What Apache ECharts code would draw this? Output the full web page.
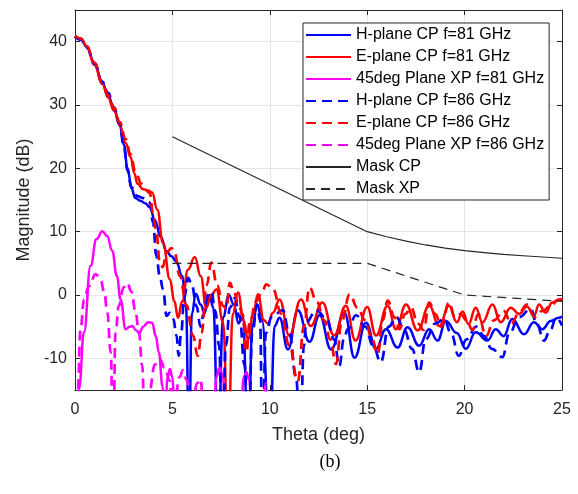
<!DOCTYPE html>
<html><head><meta charset="utf-8">
<script src="https://cdn.jsdelivr.net/npm/echarts@6/dist/echarts.min.js"></script>
<style>html,body{margin:0;padding:0;background:#fff}#c{width:578px;height:494px}</style>
</head><body><div id="c"></div>
<script>
const seriesNames = ['H-plane CP f=81 GHz','E-plane CP f=81 GHz','45deg Plane XP f=81 GHz','H-plane CP f=86 GHz','E-plane CP f=86 GHz','45deg Plane XP f=86 GHz','Mask CP','Mask XP'];
const xLabel = 'Theta (deg)';
const yLabel = 'Magnitude (dB)';
const caption = '(b)';

const h81 = [[0,40.8],[0.3,40.4],[0.6,39.2],[1.0,36.6],[1.4,33.6],[1.7,31.5],[2.0,29.4],[2.3,26.8],[2.5,23.8],[2.7,20],[2.9,16.8],[3.1,15.3],[3.35,14.9],[3.6,14.5],[3.85,13.8],[4.1,11.8],[4.4,9.2],[4.7,6.9],[4.95,6.1],[5.2,5.3],[5.5,3.0],[5.7,-2],[5.85,-24],[6.0,-3],[6.2,0.2],[6.45,-1.5],[6.65,-2.8],[6.9,0],[7.1,-2],[7.35,-24],[7.6,-3.5],[7.9,0],[8.15,-1.5],[8.4,-4.5],[8.6,-3],[8.9,-24],[9.1,-5],[9.35,-1.5],[9.6,-4],[10.0,-24],[10.25,-4.9],[10.5,-3.6],[10.93,-8.6],[11.44,-2.4],[12.04,-7.4],[12.55,-3.2],[13.15,-8.6],[13.83,-2.8],[14.35,-9.9],[14.94,-4.4],[15.45,-8.5],[15.96,-5.4],[16.56,-8.3],[17.07,-5.1],[17.67,-8.0],[18.18,-5.4],[18.61,-7.2],[19.04,-4.1],[19.6,-6.0],[20.06,-8.5],[20.57,-5.9],[21.17,-7.2],[21.6,-5.4],[22.0,-6.5],[22.45,-3.8],[23.05,-6.2],[23.56,-4.3],[23.99,-5.4],[24.42,-4.1],[24.84,-3.6],[25,-3.4]];
const e81 = [[0,40.9],[0.3,40.5],[0.6,39.3],[1.0,36.3],[1.4,33.3],[1.7,31.2],[2.0,29.1],[2.3,26.8],[2.6,24],[2.85,21.8],[3.05,19.2],[3.2,17.6],[3.5,16.7],[3.75,16.5],[3.96,16.2],[4.22,13.5],[4.52,8.2],[4.87,2.5],[5.1,-1],[5.29,-3.6],[5.5,-1],[5.8,4],[6.15,6.0],[6.45,3],[6.74,-2.0],[7.0,0],[7.26,0.9],[7.6,-4.3],[7.86,-24],[8.1,-3],[8.37,0.4],[8.65,-4],[8.88,-7],[9.15,-3],[9.39,0.1],[9.7,-4],[9.9,-4.5],[10.16,-2.8],[10.5,-0.7],[11.0,-6.4],[11.6,-0.7],[12.1,-4.9],[12.7,-1.2],[13.3,-6.4],[13.9,-1.7],[14.4,-7.2],[15.0,-1.9],[15.45,-6.4],[16.05,-1.7],[16.48,-5.4],[16.99,-1.5],[17.59,-5.6],[18.18,-1.7],[18.7,-4.9],[19.2,-1.7],[19.6,-4.3],[19.9,-2.6],[20.2,-4.6],[20.57,-2.0],[20.92,-4.3],[21.43,-1.5],[21.85,-4.3],[22.37,-2.0],[22.8,-3.0],[23.2,-1.8],[23.56,-3.3],[23.82,-1.5],[24.16,-2.8],[24.5,-1.2],[24.84,-0.7],[25,-0.9]];
const xp81 = [[0,-35],[0.1,-22],[0.21,-14.8],[0.46,-5.9],[0.8,4.6],[1.1,8.8],[1.4,10.05],[1.65,9.3],[1.91,7.0],[2.15,3.0],[2.34,-0.7],[2.6,-5.4],[2.8,-5.0],[2.94,-4.9],[3.15,-5.6],[3.3,-6.0],[3.5,-5],[3.75,-4.3],[3.96,-4.4],[4.15,-6.5],[4.3,-9],[4.5,-14.5],[4.6,-24],[4.75,-13],[4.87,-11.7],[5.0,-13],[5.15,-24],[7.1,-24],[7.25,-13],[7.43,-11.4],[7.6,-13],[7.75,-24],[8.5,-24],[8.65,-13],[8.8,-12.2],[8.95,-13.5],[9.1,-24],[10.5,-35]];
const h86 = [[0,40.8],[0.3,40.3],[0.6,39.1],[1.0,36.5],[1.4,33.7],[1.7,31.9],[2.0,29.6],[2.3,27],[2.5,23.5],[2.7,19.6],[2.9,17],[3.2,15.6],[3.5,15.3],[3.84,14.6],[4.0,11.5],[4.18,6.1],[4.35,3],[4.52,0.9],[4.7,-3.3],[4.87,-2.8],[5.05,-3.8],[5.21,-6.4],[5.32,-9.6],[5.45,-6],[5.6,-0.5],[5.81,2.7],[6.0,1.5],[6.23,-1.7],[6.45,-5],[6.6,-3],[6.8,0],[7.0,0.5],[7.2,-2.5],[7.4,-8],[7.55,-24],[7.75,-8],[7.95,-2],[8.2,-0.5],[8.45,-3.5],[8.7,-11],[8.9,-24],[9.1,-6],[9.35,-1.5],[9.5,-4],[9.62,-24],[9.8,-6],[10.1,-3.5],[10.67,-2.4],[11.0,-6],[11.35,-13],[11.56,-24],[11.75,-8],[11.87,-4.3],[12.38,-2.4],[12.89,-3.6],[13.3,-7],[13.57,-11.2],[13.8,-7],[14.0,-5.4],[14.43,-3.2],[14.9,-5],[15.3,-8],[15.7,-10.6],[16.1,-5],[16.5,-3.5],[16.9,-5.5],[17.3,-8.5],[17.67,-12.2],[18.0,-7],[18.5,-4.5],[18.95,-3.8],[19.3,-6],[19.7,-9.6],[20.1,-7],[20.6,-5],[21.0,-6.5],[21.4,-8.5],[21.94,-9.8],[22.3,-6],[22.8,-3.5],[23.39,-2.2],[23.7,-4.5],[24.07,-7.2],[24.4,-5.5],[24.7,-3.6],[25,-4.8]];
const e86 = [[0,40.9],[0.3,40.5],[0.6,39.3],[1.0,36.7],[1.4,33.4],[1.7,31.6],[2.0,29.6],[2.3,27.3],[2.6,24.6],[2.85,22.2],[3.1,19.6],[3.4,17.6],[3.84,16.1],[4.0,13],[4.18,9.8],[4.35,5.2],[4.5,4.4],[4.7,6.7],[4.95,7.4],[5.1,6.8],[5.38,3.0],[5.72,-1.6],[6.06,-6.4],[6.3,-9.6],[6.5,-6],[6.75,1.5],[7.0,5.1],[7.3,1.5],[7.6,-1.7],[7.77,-2.2],[7.95,1.9],[8.15,0.5],[8.37,-1.2],[8.6,-3],[8.8,-9],[8.97,-4.3],[9.3,-1],[9.6,0.5],[9.82,1.7],[10.16,0.9],[10.6,-3],[11.0,-8],[11.44,-13.6],[11.75,-5],[12.04,1.2],[12.4,-1],[12.8,-4],[13.1,-7],[13.4,-10.9],[13.7,-4],[14.1,0.1],[14.5,-2],[14.9,-4],[15.25,-7],[15.54,-9.3],[15.8,-4],[16.05,-0.9],[16.4,-3.5],[16.65,-5.4],[16.95,-3],[17.25,-2],[17.6,-4.5],[17.9,-5.5],[18.18,-1.2],[18.5,-3],[18.8,-5],[19.2,-1.2],[19.5,-3.5],[19.8,-3],[20.1,-4],[20.4,-5.5],[20.7,-3],[21.1,-6.5],[21.5,-4],[22.0,-2.5],[22.4,-4.5],[22.8,-2.8],[23.2,-1.5],[23.6,-3.5],[24.0,-2.5],[24.4,-1.8],[24.8,-0.8],[25,-0.5]];
const xp86 = [[0,-35],[0.12,-16],[0.3,-5],[0.46,-0.7],[0.72,1.4],[1.06,3.3],[1.3,2.5],[1.5,0.5],[1.66,-2.8],[1.83,-9],[1.96,-24],[2.08,-5.9],[2.25,-1.7],[2.5,1.2],[2.68,1.9],[2.9,0.5],[3.1,-2.5],[3.28,-5.9],[3.45,-11.1],[3.59,-24],[3.8,-15.5],[4.1,-11],[4.35,-10.1],[4.6,-11.5],[4.87,-13.5],[5.0,-24],[5.35,-13],[5.55,-11.9],[5.75,-13.5],[5.95,-24],[6.25,-14],[6.45,-13.3],[6.65,-24],[9.55,-24],[9.8,-14],[10.0,-24],[10.5,-35]];
const maskCp = [[5,25],[15,10],[16,9.2],[17,8.5],[18,7.9],[19,7.4],[20,7],[21,6.7],[22,6.4],[23,6.2],[24,6.0],[25,5.8]];
const maskXp = [[5,5],[15,5],[20,0],[25,-1]];

const FONT = 'Liberation Sans, Arial, sans-serif';
const AX = '#262626';
const GRIDC = '#e6e6e6';

function curve(name, data, color, dashed, width) {
  return {
    name, type: 'line', data, symbol: 'none', smooth: 0.45, smoothMonotone: 'x',
    clip: true, animation: false,
    lineStyle: { color, width, type: dashed ? [10, 6] : 'solid' },
    itemStyle: { color }
  };
}
function mask(name, data, dashed) {
  return {
    name, type: 'line', data, symbol: 'none', smooth: false, clip: true, animation: false,
    lineStyle: { color: AX, width: 1.2, type: dashed ? [9, 6] : 'solid' },
    itemStyle: { color: AX }
  };
}

const baseX = {
  type: 'value', min: 0, max: 25, interval: 5,
  axisLine: { show: true, onZero: false, lineStyle: { color: AX, width: 1 } },
  axisTick: { show: true, inside: true, length: 5, lineStyle: { color: AX } },
  splitLine: { show: false }
};
const baseY = {
  type: 'value', min: -15, max: 45, splitNumber: 6,
  axisLine: { show: true, onZero: false, lineStyle: { color: AX, width: 1 } },
  axisTick: { show: true, inside: true, length: 5, lineStyle: { color: AX } },
  splitLine: { show: false }
};
const hideEnds = v => (v === -15 || v === 45) ? '' : String(v);

const option = {
  animation: false,
  backgroundColor: '#fff',
  textStyle: { fontFamily: FONT },
  grid: { left: 75, right: 16, top: 10, bottom: 104, containLabel: false },
  xAxis: [
    Object.assign({}, baseX, {
      position: 'bottom', name: xLabel, nameLocation: 'middle', nameGap: 36,
      nameTextStyle: { fontFamily: FONT, fontSize: 18, color: AX },
      axisLabel: { fontFamily: FONT, fontSize: 16, color: AX, margin: 12 },
      splitLine: { show: true, lineStyle: { color: GRIDC, width: 1 } }
    }),
    Object.assign({}, baseX, { position: 'top', axisLabel: { show: false } })
  ],
  yAxis: [
    Object.assign({}, baseY, {
      position: 'left', name: yLabel, nameLocation: 'middle', nameGap: 40,
      nameTextStyle: { fontFamily: FONT, fontSize: 18, color: AX },
      axisLabel: { fontFamily: FONT, fontSize: 16, color: AX, margin: 8, formatter: hideEnds },
      splitLine: { show: true, lineStyle: { color: GRIDC, width: 1 } }
    }),
    Object.assign({}, baseY, { position: 'right', axisLabel: { show: false } })
  ],
  legend: {
    data: seriesNames, orient: 'vertical', left: 303, top: 23,
    itemWidth: 45, itemHeight: 14, itemGap: 6,
    padding: [4, 5, 3, 2],
    borderColor: AX, borderWidth: 1, backgroundColor: '#fff',
    itemStyle: { opacity: 0 },
    textStyle: { fontFamily: FONT, fontSize: 16, color: '#000', lineHeight: 16 },
    selectedMode: false
  },
  graphic: [{
    type: 'text', x: 330, y: 462,
    style: { text: caption, font: '18px "Liberation Serif", "Times New Roman", serif', fill: '#000', textAlign: 'center', textVerticalAlign: 'middle' }
  }],
  series: [
    curve(seriesNames[0], h81, '#0000ff', false, 2.5),
    curve(seriesNames[1], e81, '#ff0000', false, 2.5),
    curve(seriesNames[2], xp81, '#ff00ff', false, 2.5),
    curve(seriesNames[3], h86, '#0000ff', true, 2.7),
    curve(seriesNames[4], e86, '#ff0000', true, 2.7),
    curve(seriesNames[5], xp86, '#ff00ff', true, 2.7),
    mask(seriesNames[6], maskCp, false),
    mask(seriesNames[7], maskXp, true)
  ]
};
const chart = echarts.init(document.getElementById('c'), null, { renderer: 'canvas' });
chart.setOption(option);
</script>
</body></html>
